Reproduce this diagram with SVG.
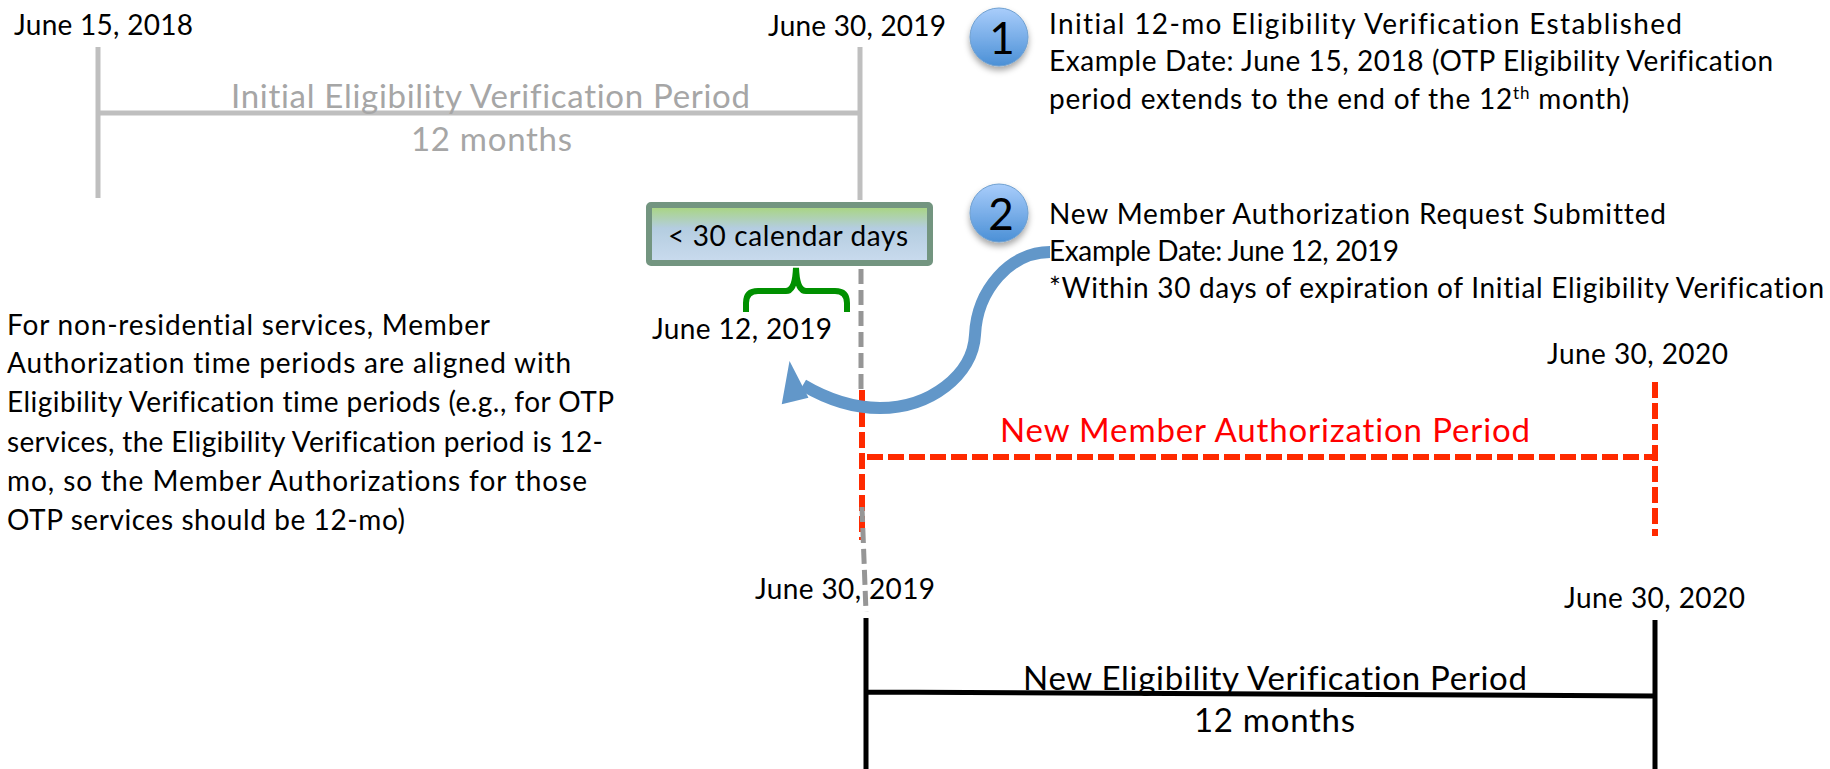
<svg xmlns="http://www.w3.org/2000/svg" width="1830" height="769" viewBox="0 0 1830 769">
<style>
text{font-family:Lato,"Liberation Sans",sans-serif;font-size:28px;fill:#000;font-variant-ligatures:none}
.g{fill:#a6a6a6;font-size:33px}
.big{font-size:33px}
.red{fill:#ff0000;font-size:33px}
.num{font-size:44px;text-anchor:middle}
.lg{stroke:#bfbfbf;stroke-width:5;fill:none}
.dash{stroke:#969696;stroke-width:5;fill:none;stroke-dasharray:15 6}
.rd{stroke:#ff2a00;stroke-width:6;fill:none;stroke-dasharray:16 5}
.bk{stroke:#000;stroke-width:5;fill:none}
</style>
<defs>
<linearGradient id="ball" x1="0" y1="0" x2="0" y2="1"><stop offset="0" stop-color="#a9cdfb"/><stop offset="1" stop-color="#4b90d6"/></linearGradient>
<linearGradient id="box" x1="0" y1="0" x2="0" y2="1"><stop offset="0" stop-color="#a8d678"/><stop offset="0.4" stop-color="#b4cde0"/><stop offset="1" stop-color="#cadbee"/></linearGradient>
<filter id="sh" x="-30%" y="-30%" width="160%" height="170%"><feDropShadow dx="0" dy="4" stdDeviation="3" flood-color="#000" flood-opacity="0.35"/></filter>
</defs>
<g id="connectors">
<path class="lg" d="M98 47V198M98 113H860M860 47V200"/>
<path class="dash" d="M861 269V390"/>
<path class="rd" d="M862 390V540M867 457H1655M1655 382V536"/>
<path class="dash" d="M862 507L866 612"/>
<path class="bk" d="M866 618V769M866 692L1655 696M1655 620V769"/>
<path d="M746 312V303Q746 291 758 291H786Q795 291 796 268Q797 291 806 291H835Q847 291 847 303V312" fill="none" stroke="#009000" stroke-width="6"/>
<path d="M1050 252C1010 252 977 290 975 335C973 375 930 408 880 408C850 408 825 398 803 385" fill="none" stroke="#6297c9" stroke-width="12"/>
<path d="M790 364L783 403L807 397Z" fill="#6297c9" stroke="#6297c9" stroke-width="2"/>
</g>
<g id="label-start"><text x="14" y="35" textLength="179">June 15, 2018</text></g>
<g id="label-initial-end"><text x="768" y="36" textLength="178">June 30, 2019</text></g>
<g id="period-initial"><text class="g" x="231" y="108" textLength="519">Initial Eligibility Verification Period</text><text class="g" x="411" y="151" textLength="161">12 months</text></g>
<g id="node-30days"><rect x="649" y="205" width="281" height="58" rx="2" fill="url(#box)" stroke="#739580" stroke-width="6"/><text x="668" y="246" textLength="240">&lt; 30 calendar days</text></g>
<g id="label-june12"><text x="652" y="339" textLength="180">June 12, 2019</text></g>
<g id="badge-1"><circle cx="999" cy="37" r="29" fill="url(#ball)" stroke="#6fa0d0" filter="url(#sh)"/><text class="num" x="1002" y="54">1</text></g>
<g id="badge-2"><circle cx="999" cy="213" r="29" fill="url(#ball)" stroke="#6fa0d0" filter="url(#sh)"/><text class="num" x="1001" y="230">2</text></g>
<g id="text-1"><text x="1049" y="34" textLength="633">Initial 12-mo Eligibility Verification Established</text><text x="1049" y="71" textLength="724">Example Date: June 15, 2018 (OTP Eligibility Verification</text><text x="1049" y="109" letter-spacing="0.8">period extends to the end of the 12<tspan font-size="17" dy="-10">th</tspan><tspan dy="10"> month)</tspan></text></g>
<g id="text-2"><text x="1049" y="224" textLength="617">New Member Authorization Request Submitted</text><text x="1049" y="261" textLength="350">Example Date: June 12, 2019</text><text x="1049" y="298" textLength="775">*Within 30 days of expiration of Initial Eligibility Verification</text></g>
<g id="text-note"><text x="7" y="335" textLength="483">For non-residential services, Member</text><text x="7" y="373" textLength="564">Authorization time periods are aligned with</text><text x="7" y="412" textLength="607">Eligibility Verification time periods (e.g., for OTP</text><text x="7" y="452" textLength="596">services, the Eligibility Verification period is 12-</text><text x="7" y="491" textLength="580">mo, so the Member Authorizations for those</text><text x="7" y="530" textLength="398">OTP services should be 12-mo)</text></g>
<g id="label-2020a"><text x="1547" y="364" textLength="181">June 30, 2020</text></g>
<g id="period-member"><text class="red" x="1000" y="442" textLength="530">New Member Authorization Period</text></g>
<g id="label-2019b"><text x="755" y="599" textLength="180">June 30, 2019</text></g>
<g id="label-2020b"><text x="1564" y="608" textLength="181">June 30, 2020</text></g>
<g id="period-new"><text class="big" x="1023" y="690" textLength="504">New Eligibility Verification Period</text><text class="big" x="1194" y="732" textLength="161">12 months</text></g>
</svg>
